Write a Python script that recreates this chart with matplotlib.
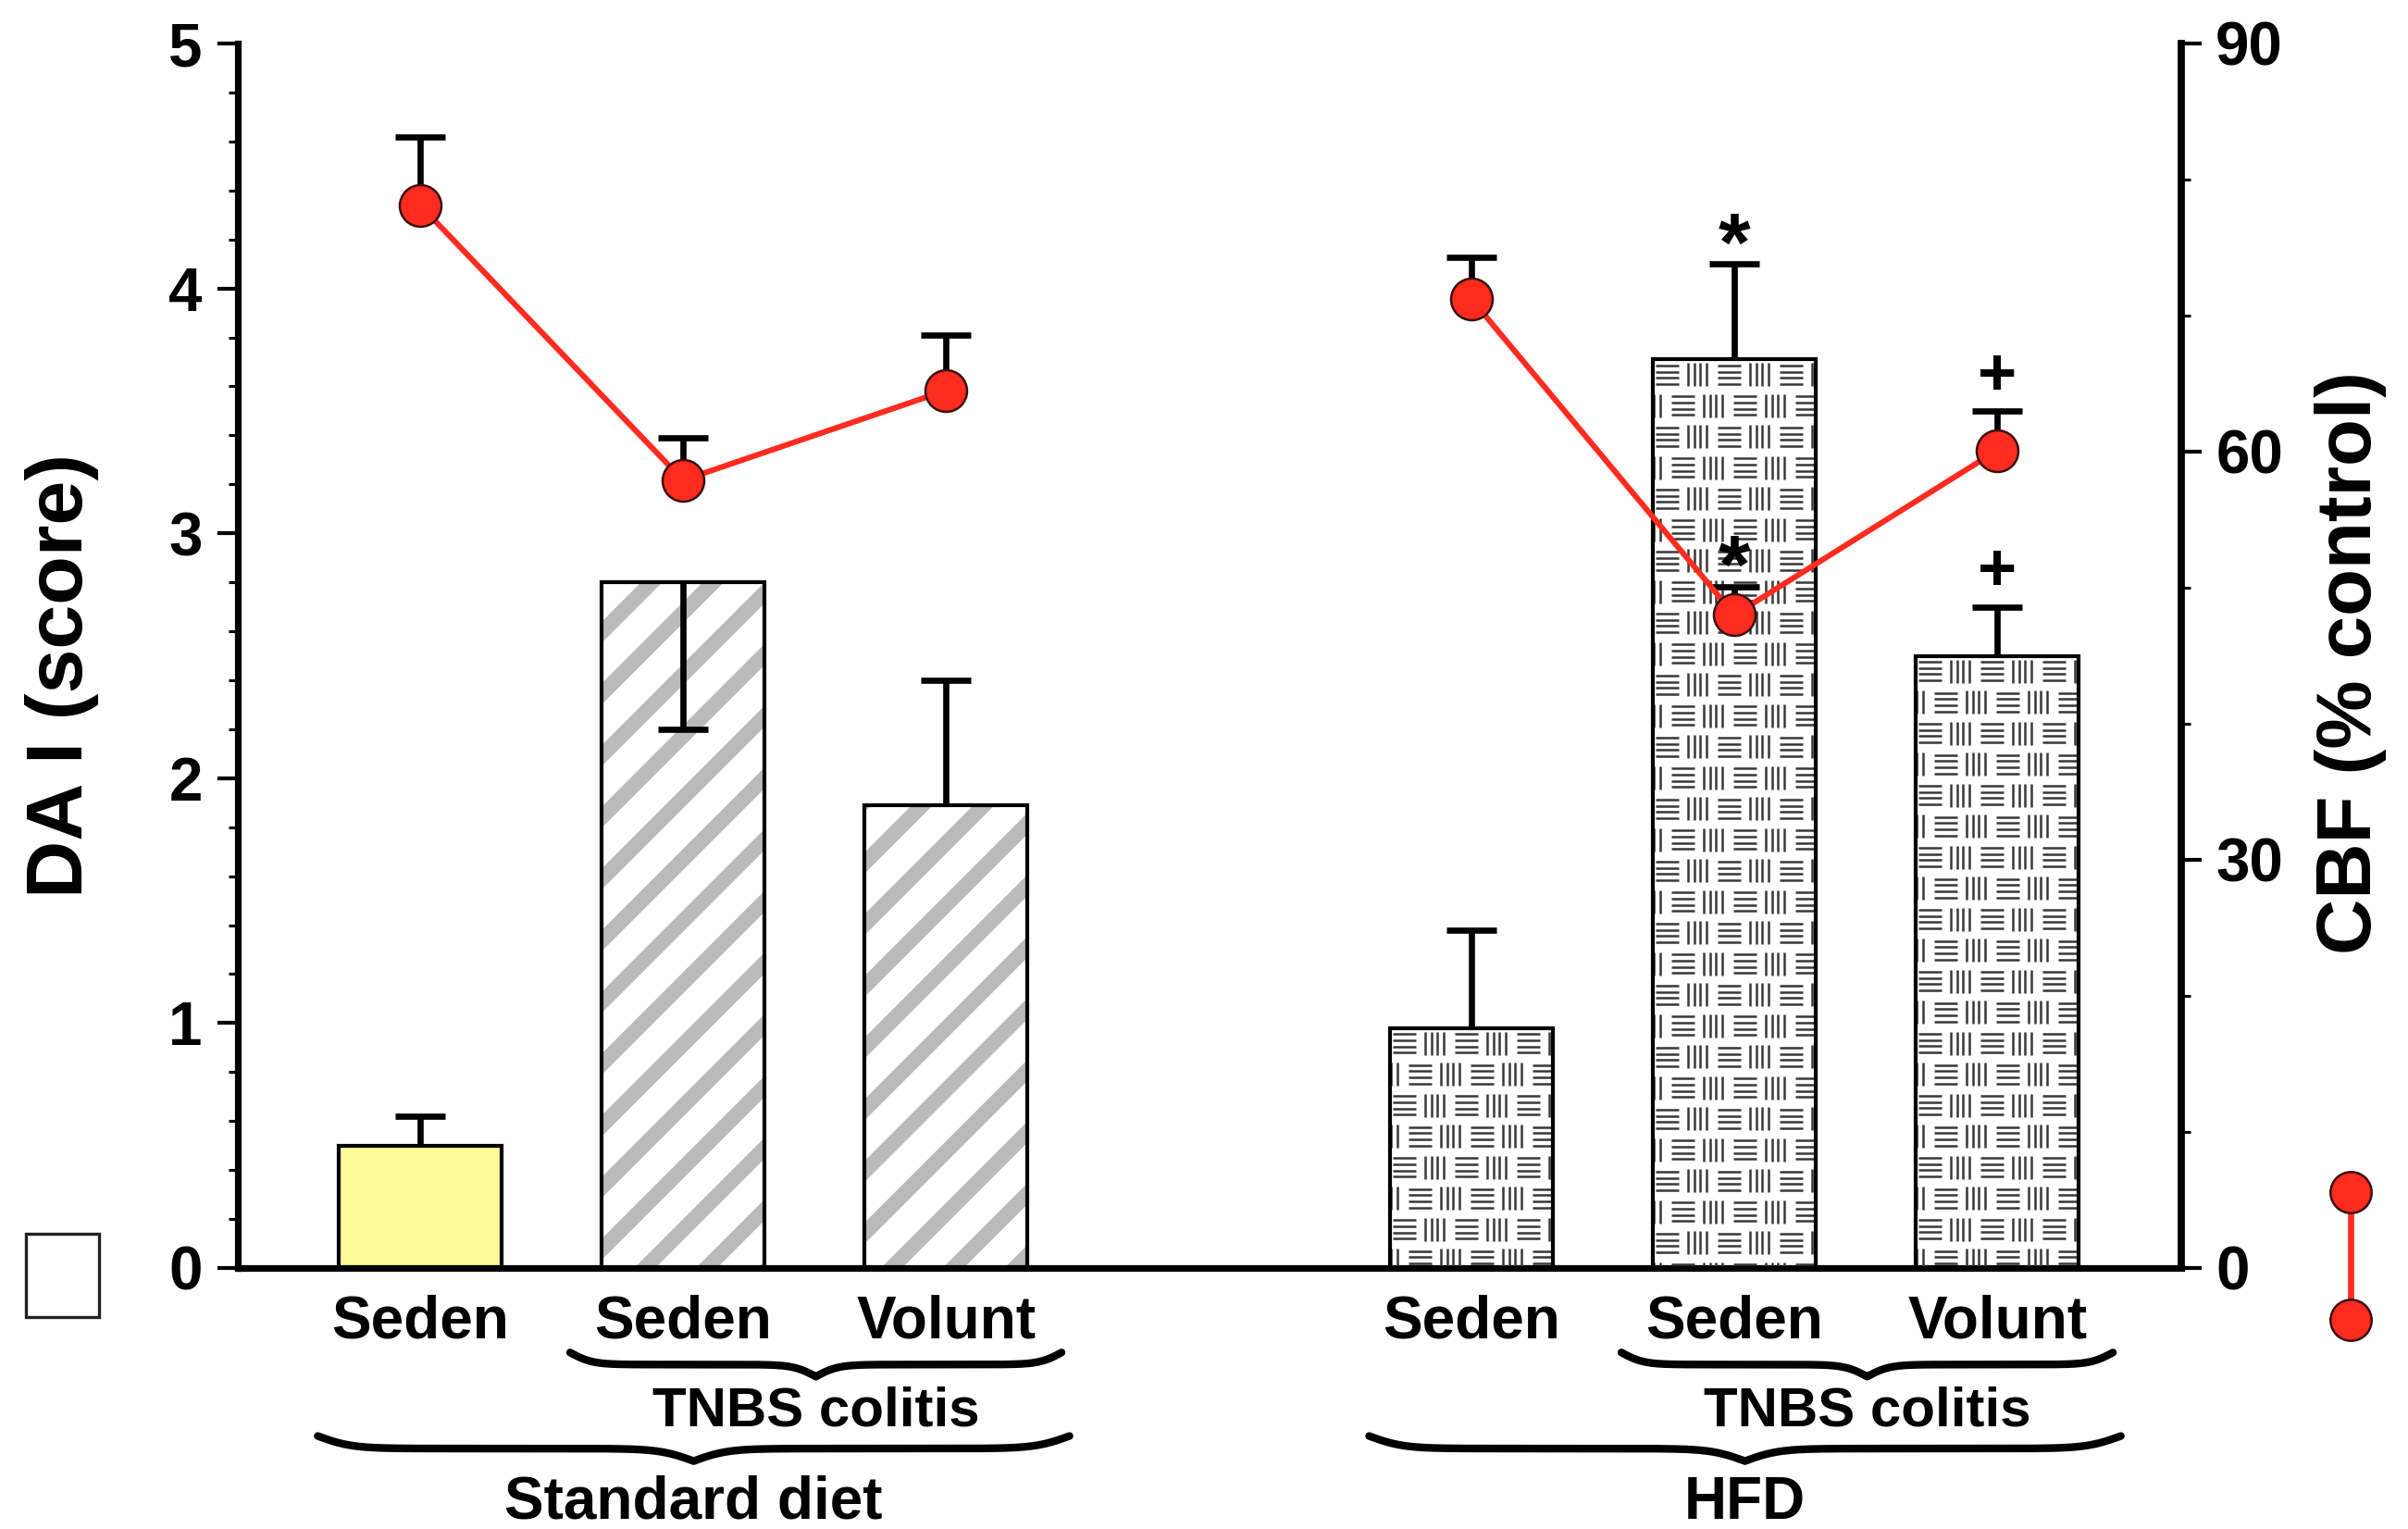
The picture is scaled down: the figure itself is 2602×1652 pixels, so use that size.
import numpy as np
import matplotlib.pyplot as plt
from matplotlib.collections import LineCollection
from matplotlib.patches import Rectangle
from matplotlib.lines import Line2D
from matplotlib.ticker import MultipleLocator
from matplotlib.transforms import IdentityTransform

plt.rcParams['font.family'] = ['Liberation Sans', 'DejaVu Sans']
plt.rcParams['font.weight'] = 'bold'
plt.rcParams['hatch.linewidth'] = 2.9

# data
diets = ['Standard diet', 'HFD']
groups = ['Seden', 'Seden', 'Volunt']
colitis_label = 'TNBS colitis'
dai = [0.50, 2.80, 1.89, 0.98, 3.71, 2.50]
dai_err_up = [0.12, 0.0, 0.51, 0.40, 0.39, 0.20]
dai_err_down = [0.0, 0.60, 0.0, 0.0, 0.0, 0.0]
cbf = [78.1, 57.9, 64.5, 71.2, 48.0, 60.1]
cbf_err = [5.0, 3.1, 4.1, 3.1, 2.1, 2.9]
dai_marks = ['', '', '', '', '*', '+']
cbf_marks = ['', '', '', '', '*', '+']

RED = '#ff2b1f'
DPI = 400
W, H = 2602, 1652
fig = plt.figure(figsize=(W / DPI, H / DPI), dpi=DPI)
ax = fig.add_axes([257 / W, 1 - 1370 / H, 2100 / W, 1323 / H])

x = np.array([d * 4 + j for d in range(len(diets)) for j in range(len(groups))], dtype=float)
ax.set_xlim(-0.694, 6.70)
ax.set_ylim(0, 5)

bw = 0.62
fills = ['#fffa96'] + ['white'] * 5
bars = ax.bar(x, dai, bw, color=fills, edgecolor='none', zorder=2)
for i in (1, 2):
    ax.bar(x[i], dai[i], bw, color='white', edgecolor='#bababa', linewidth=0, hatch='//', zorder=2)


def weave(bar):
    (px0, py0), (px1, py1) = ax.transData.transform(
        [(bar.get_x(), 0), (bar.get_x() + bar.get_width(), bar.get_height())])
    per, row, blk, gap = 67.0, 33.5, 25.0, 6.67
    segs = []
    nrows = int((py1 - py0) / row) + 2
    for r in range(nrows):
        ytop = py1 - 4 - r * row
        xb = px0 - per + (r % 2) * per / 4 + 3
        while xb < px1:
            for k in range(4):
                yy = ytop - 2.5 - k * gap
                segs.append([(xb, yy), (xb + blk, yy)])
                xx = xb + blk + 10 + k * gap
                segs.append([(xx, ytop), (xx, ytop - blk)])
            xb += per
    lc = LineCollection(segs, colors='#383838', linewidths=0.45,
                        transform=IdentityTransform(), zorder=3)
    ax.add_collection(lc, autolim=False)
    lc.set_clip_path(bar)


for i in (3, 4, 5):
    weave(bars[i])

ax.bar(x, dai, bw, fill=False, edgecolor='black', linewidth=0.75, zorder=4)

# DAI error bars
up = np.array(dai) + np.array(dai_err_up)
lo = np.array(dai) - np.array(dai_err_down)
ax.vlines(x, lo, up, color='black', lw=1.2, zorder=5)
ends = np.where(np.array(dai_err_up) > 0, up, lo)
ax.plot(x, ends, ls='none', marker='_', ms=9.6, mew=1.2, color='black', zorder=5)


def mark(a, xi, yi, m):
    if m == '*':
        a.annotate(m, (xi, yi), xytext=(0, 3.0), textcoords='offset points',
                   ha='center', va='center', fontsize=16, zorder=6)
    elif m:
        a.annotate(m, (xi, yi), xytext=(0, 6.5), textcoords='offset points',
                   ha='center', va='center', fontsize=13, zorder=6)


for xi, yi, m in zip(x, up, dai_marks):
    mark(ax, xi, yi, m)

ax.spines['top'].set_visible(False)
ax.spines['right'].set_visible(False)
ax.spines['left'].set_linewidth(1.3)
ax.spines['bottom'].set_linewidth(1.3)
ax.set_xticks([])
ax.set_yticks(range(6))
ax.yaxis.set_minor_locator(MultipleLocator(0.2))
ax.tick_params(axis='y', which='major', length=4, width=0.75, labelsize=11.8, pad=2.9)
ax.tick_params(axis='y', which='minor', length=1.8, width=0.55)

# CBF on the right axis
ax2 = ax.twinx()
ax2.set_ylim(0, 90)
ax2.set_xlim(ax.get_xlim())
cbf_up = np.array(cbf) + np.array(cbf_err)
ax2.vlines(x, cbf, cbf_up, color='black', lw=1.2, zorder=3)
ax2.plot(x, cbf_up, ls='none', marker='_', ms=9.6, mew=1.2, color='black', zorder=3)
for d in range(len(diets)):
    s = slice(d * 3, d * 3 + 3)
    ax2.plot(x[s], cbf[s], color=RED, lw=1.1, marker='o', ms=8.1, mfc=RED,
             mec='#3a1010', mew=0.45, zorder=4)
for xi, yi, m in zip(x, cbf_up, cbf_marks):
    mark(ax2, xi, yi, m)

for sp in ('top', 'left', 'bottom'):
    ax2.spines[sp].set_visible(False)
ax2.spines['right'].set_linewidth(1.4)
ax2.set_yticks([0, 30, 60, 90])
ax2.yaxis.set_minor_locator(MultipleLocator(10))
ax2.tick_params(axis='y', which='major', length=4, width=0.75, labelsize=11.8, pad=2.7)
ax2.tick_params(axis='y', which='minor', length=1.8, width=0.55)

# group labels and braces under the axis
tr = ax.get_xaxis_transform()


def brace(x0, x1, ytop, ytip):
    u = np.linspace(0, 1, 150)
    b = 22.0
    yh = 1 / (1 + np.exp(-b * u)) + 1 / (1 + np.exp(-b * (u - 1)))
    yh = (yh - yh[0]) / (yh[-1] - yh[0])
    xm = (x0 + x1) / 2
    xs = np.concatenate([x0 + u * (xm - x0), xm + u * (x1 - xm)])
    ys = np.concatenate([yh, yh[::-1]])
    ys = ytop + ys * (ytip - ytop)
    ax.plot(xs, ys, transform=tr, clip_on=False, color='black', lw=1.5,
            solid_capstyle='round')
    return xm


for d, diet in enumerate(diets):
    i0 = d * 3
    for j, g in enumerate(groups):
        ax.text(x[i0 + j], -0.0569, g, transform=tr, ha='center', va='baseline', fontsize=11.5)
    xm = brace(x[i0 + 1] - 0.43, x[i0 + 2] + 0.44, -0.069, -0.0887)
    ax.text(xm, -0.1289, colitis_label, transform=tr, ha='center', va='baseline', fontsize=10.8)
    xm = brace(x[i0] - 0.39, x[i0 + 2] + 0.47, -0.1372, -0.1577)
    ax.text(xm, -0.2047, diet, transform=tr, ha='center', va='baseline', fontsize=11.5)

fig.text(67 / W, 1 - 730 / H, 'DA I (score)', rotation=90, ha='center', va='center', fontsize=15.5)
fig.text(2540 / W, 1 - 716 / H, 'CBF (% control)', rotation=90, ha='center', va='center', fontsize=15)

# legend symbols
fig.add_artist(Rectangle((28 / W, 1 - 1423 / H), 79 / W, 90 / H, transform=fig.transFigure,
                         facecolor='white', edgecolor='#222222', lw=0.6))
fig.add_artist(Line2D([2540 / W] * 2, [1 - 1288 / H, 1 - 1426 / H], transform=fig.transFigure,
                      color=RED, lw=1.2, marker='o', ms=8, mfc=RED, mec='#3a1010', mew=0.45))

fig.savefig('out.png', dpi=DPI)
